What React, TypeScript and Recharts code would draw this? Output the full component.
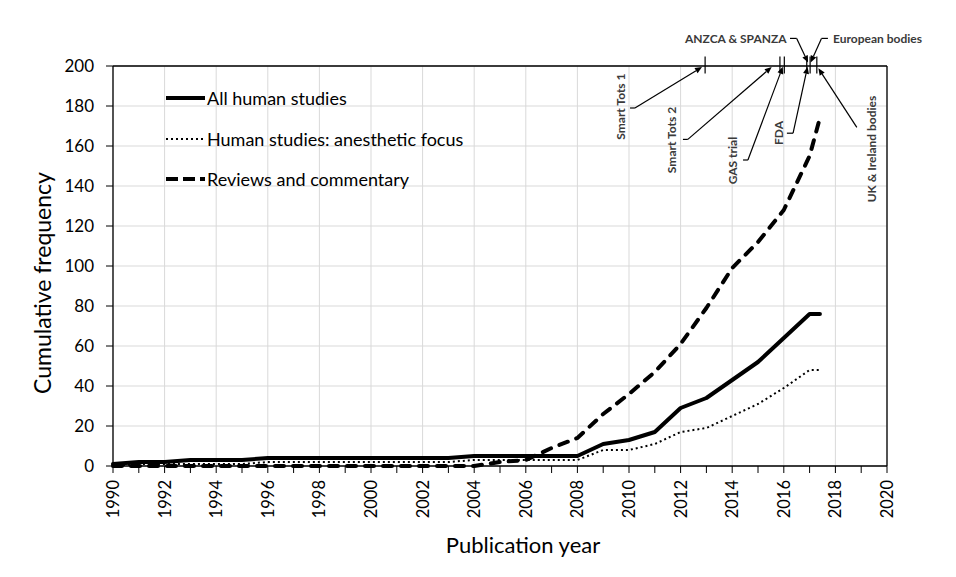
import {
  LineChart,
  Line,
  XAxis,
  YAxis,
  CartesianGrid,
  Legend,
  ReferenceLine,
  ReferenceDot,
} from "recharts";

const years = [
  1990, 1991, 1992, 1993, 1994, 1995, 1996, 1997, 1998, 1999, 2000, 2001, 2002,
  2003, 2004, 2005, 2006, 2007, 2008, 2009, 2010, 2011, 2012, 2013, 2014, 2015,
  2016, 2017, 2017.4,
];
const allHuman = [
  1, 2, 2, 3, 3, 3, 4, 4, 4, 4, 4, 4, 4, 4, 5, 5, 5, 5, 5, 11, 13, 17, 29, 34,
  43, 52, 64, 76, 76,
];
const anestheticFocus = [
  0, 1, 1, 1, 1, 1, 2, 2, 2, 2, 2, 2, 2, 2, 3, 3, 3, 3, 3, 8, 8, 11, 17, 19, 25,
  31, 39, 48, 48,
];
const reviews = [
  0, 0, 0, 0, 0, 0, 0, 0, 0, 0, 0, 0, 0, 0, 0, 2, 3, 9, 14, 26, 36, 47, 61, 79,
  99, 112, 128, 155, 174,
];

const yTicks = [0, 20, 40, 60, 80, 100, 120, 140, 160, 180, 200];
const xTicks = [
  1990, 1991, 1992, 1993, 1994, 1995, 1996, 1997, 1998, 1999, 2000, 2001, 2002,
  2003, 2004, 2005, 2006, 2007, 2008, 2009, 2010, 2011, 2012, 2013, 2014, 2015,
  2016, 2017, 2018, 2019, 2020,
];
const gridYears = [
  1990, 1992, 1994, 1996, 1998, 2000, 2002, 2004, 2006, 2008, 2010, 2012, 2014,
  2016, 2018, 2020,
];

// event marks along the top border
const eventYears = [2012.95, 2015.85, 2016.02, 2016.89, 2017.02, 2017.28];

// callouts: text anchor point and leader path in data coordinates
const callouts = [
  { label: "Smart Tots 1", at: [2009.69, 179.7], rotate: true, anchor: "middle",
    path: [[2010.04, 179], [2010.23, 179], [2012.83, 199.5]] },
  { label: "Smart Tots 2", at: [2011.63, 163], rotate: true, anchor: "middle",
    path: [[2012.09, 163.3], [2012.28, 163.3], [2015.53, 199.5]] },
  { label: "GAS trial", at: [2014.03, 152.7], rotate: true, anchor: "middle",
    path: [[2014.42, 153], [2014.61, 153], [2015.96, 199.6]] },
  { label: "FDA", at: [2015.78, 166.5], rotate: true, anchor: "middle",
    path: [[2016.12, 166.4], [2016.36, 166.4], [2016.92, 199.6]] },
  { label: "ANZCA & SPANZA", at: [2016.11, 213.8], rotate: false, anchor: "end",
    path: [[2016.24, 213.8], [2016.5, 213.8], [2016.94, 201.7]] },
  { label: "European bodies", at: [2017.91, 213.8], rotate: false, anchor: "start",
    path: [[2017.71, 213.8], [2017.46, 213.8], [2017.04, 201.7]] },
  { label: "UK & Ireland bodies", at: [2019.38, 158.5], rotate: true, anchor: "middle",
    path: [[2018.83, 169.3], [2017.34, 198.9]] },
];

const data = years.map((year, i) => ({
  year,
  all: allHuman[i],
  focus: anestheticFocus[i],
  reviews: reviews[i],
}));

const series = [
  { key: "all", name: "All human studies", width: 4, dash: undefined, cap: "round" },
  { key: "focus", name: "Human studies: anesthetic focus", width: 2, dash: "2 3", cap: "butt" },
  { key: "reviews", name: "Reviews and commentary", width: 4, dash: "9 9", cap: "round" },
];

const FONT = "Lato, 'Open Sans', sans-serif";

const plainLine = (props: any) => (
  <line x1={props.x1} y1={props.y1} x2={props.x2} y2={props.y2} stroke="#000" strokeWidth={1.2} />
);

const arrowLine = (props: any) => {
  const { x1, y1, x2, y2 } = props;
  const a = Math.atan2(y2 - y1, x2 - x1);
  const L = 7;
  const W = 3;
  const bx = x2 - L * Math.cos(a);
  const by = y2 - L * Math.sin(a);
  const pts = `${x2},${y2} ${bx + W * Math.sin(a)},${by - W * Math.cos(a)} ${bx - W * Math.sin(a)},${by + W * Math.cos(a)}`;
  return (
    <g>
      <line x1={x1} y1={y1} x2={bx} y2={by} stroke="#000" strokeWidth={1.2} />
      <polygon points={pts} fill="#000" />
    </g>
  );
};

const YearTick = (props: any) => {
  const { x, y, payload } = props;
  if (payload.value % 2 !== 0) return <g />;
  return (
    <text
      x={x}
      y={y}
      transform={`rotate(-90 ${x} ${y})`}
      textAnchor="end"
      dominantBaseline="central"
      fontSize={16.5}
      fontFamily={FONT}
      fill="#000"
    >
      {payload.value}
    </text>
  );
};

const renderLegend = () => (
  <div style={{ fontFamily: FONT, fontSize: 18, color: "#000" }}>
    {series.map((s) => (
      <div key={s.key} style={{ display: "flex", alignItems: "center", height: 40.5 }}>
        <svg width={42} height={10} style={{ marginRight: 1 }}>
          <line
            x1={2}
            y1={5}
            x2={41}
            y2={5}
            stroke="#000"
            strokeWidth={s.width}
            strokeDasharray={s.key === "reviews" ? "12 5" : s.dash}
          />
        </svg>
        <span>{s.name}</span>
      </div>
    ))}
  </div>
);

export default function App() {
  return (
    <div style={{ position: "absolute", left: 0, top: 0, background: "#fff" }}>
      <LineChart
        width={956}
        height={577}
        data={data}
        margin={{ top: 66, right: 69, left: 20, bottom: 11 }}
        style={{ fontFamily: FONT }}
      >
        <CartesianGrid
          stroke="#d9d9d9"
          strokeWidth={1}
          horizontalValues={yTicks}
          verticalValues={gridYears}
        />
        <XAxis
          dataKey="year"
          type="number"
          domain={[1990, 2020]}
          ticks={xTicks}
          interval={0}
          height={100}
          tickSize={7}
          tickMargin={7}
          tick={<YearTick />}
          axisLine={{ stroke: "#000", strokeWidth: 1.3 }}
          tickLine={{ stroke: "#000", strokeWidth: 1 }}
          label={(p: any) => {
            const vb = p.viewBox || { x: 113, y: 466, width: 774 };
            return (
              <text
                x={vb.x + vb.width / 2 + 23}
                y={vb.y + 87}
                textAnchor="middle"
                fontSize={22}
                fontFamily={FONT}
                fill="#000"
              >
                Publication year
              </text>
            );
          }}
        />
        <YAxis
          type="number"
          domain={[0, 200]}
          ticks={yTicks}
          interval={0}
          width={93}
          tickSize={7}
          tickMargin={12}
          tick={{ fontSize: 17, fill: "#000", fontFamily: FONT }}
          axisLine={{ stroke: "#000", strokeWidth: 1.3 }}
          tickLine={{ stroke: "#000", strokeWidth: 1 }}
          label={(p: any) => {
            const vb = p.viewBox || { x: 20, y: 66, height: 400 };
            const cx = vb.x + 22;
            const cy = vb.y + vb.height / 2 + 17;
            return (
              <text
                x={cx}
                y={cy}
                transform={`rotate(-90 ${cx} ${cy})`}
                textAnchor="middle"
                dominantBaseline="central"
                fontSize={23}
                fontFamily={FONT}
                fill="#000"
              >
                Cumulative frequency
              </text>
            );
          }}
        />
        <ReferenceLine y={200} stroke="#000" strokeWidth={1.3} ifOverflow="visible" />
        <ReferenceLine x={2020} stroke="#000" strokeWidth={1.3} ifOverflow="visible" />

        {series.map((s) => (
          <Line
            key={s.key}
            dataKey={s.key}
            name={s.name}
            type="linear"
            stroke="#000"
            strokeWidth={s.width}
            strokeDasharray={s.dash}
            strokeLinecap={s.cap as any}
            strokeLinejoin="round"
            dot={false}
            activeDot={false}
            isAnimationActive={false}
          />
        ))}

        {eventYears.map((yr) => (
          <ReferenceLine
            key={`ev-${yr}`}
            segment={[{ x: yr, y: 196.3 }, { x: yr, y: 204.7 }]}
            ifOverflow="visible"
            shape={plainLine}
          />
        ))}

        {callouts.flatMap((c) =>
          c.path.slice(0, -1).map((pt, j) => (
            <ReferenceLine
              key={`${c.label}-${j}`}
              segment={[
                { x: pt[0], y: pt[1] },
                { x: c.path[j + 1][0], y: c.path[j + 1][1] },
              ]}
              ifOverflow="visible"
              shape={j === c.path.length - 2 ? arrowLine : plainLine}
            />
          ))
        )}

        {callouts.map((c) => (
          <ReferenceDot
            key={`lbl-${c.label}`}
            x={c.at[0]}
            y={c.at[1]}
            r={0}
            ifOverflow="visible"
            shape={(p: any) => (
              <text
                x={p.cx}
                y={p.cy}
                transform={c.rotate ? `rotate(-90 ${p.cx} ${p.cy})` : undefined}
                textAnchor={c.anchor}
                dominantBaseline="central"
                fontSize={12}
                fontWeight={700}
                fontFamily={FONT}
                fill="#3a3a3a"
              >
                {c.label}
              </text>
            )}
          />
        ))}

        <Legend
          layout="vertical"
          align="center"
          verticalAlign="middle"
          wrapperStyle={{ left: 164, top: 78, width: 340 }}
          content={renderLegend}
        />
      </LineChart>
    </div>
  );
}
